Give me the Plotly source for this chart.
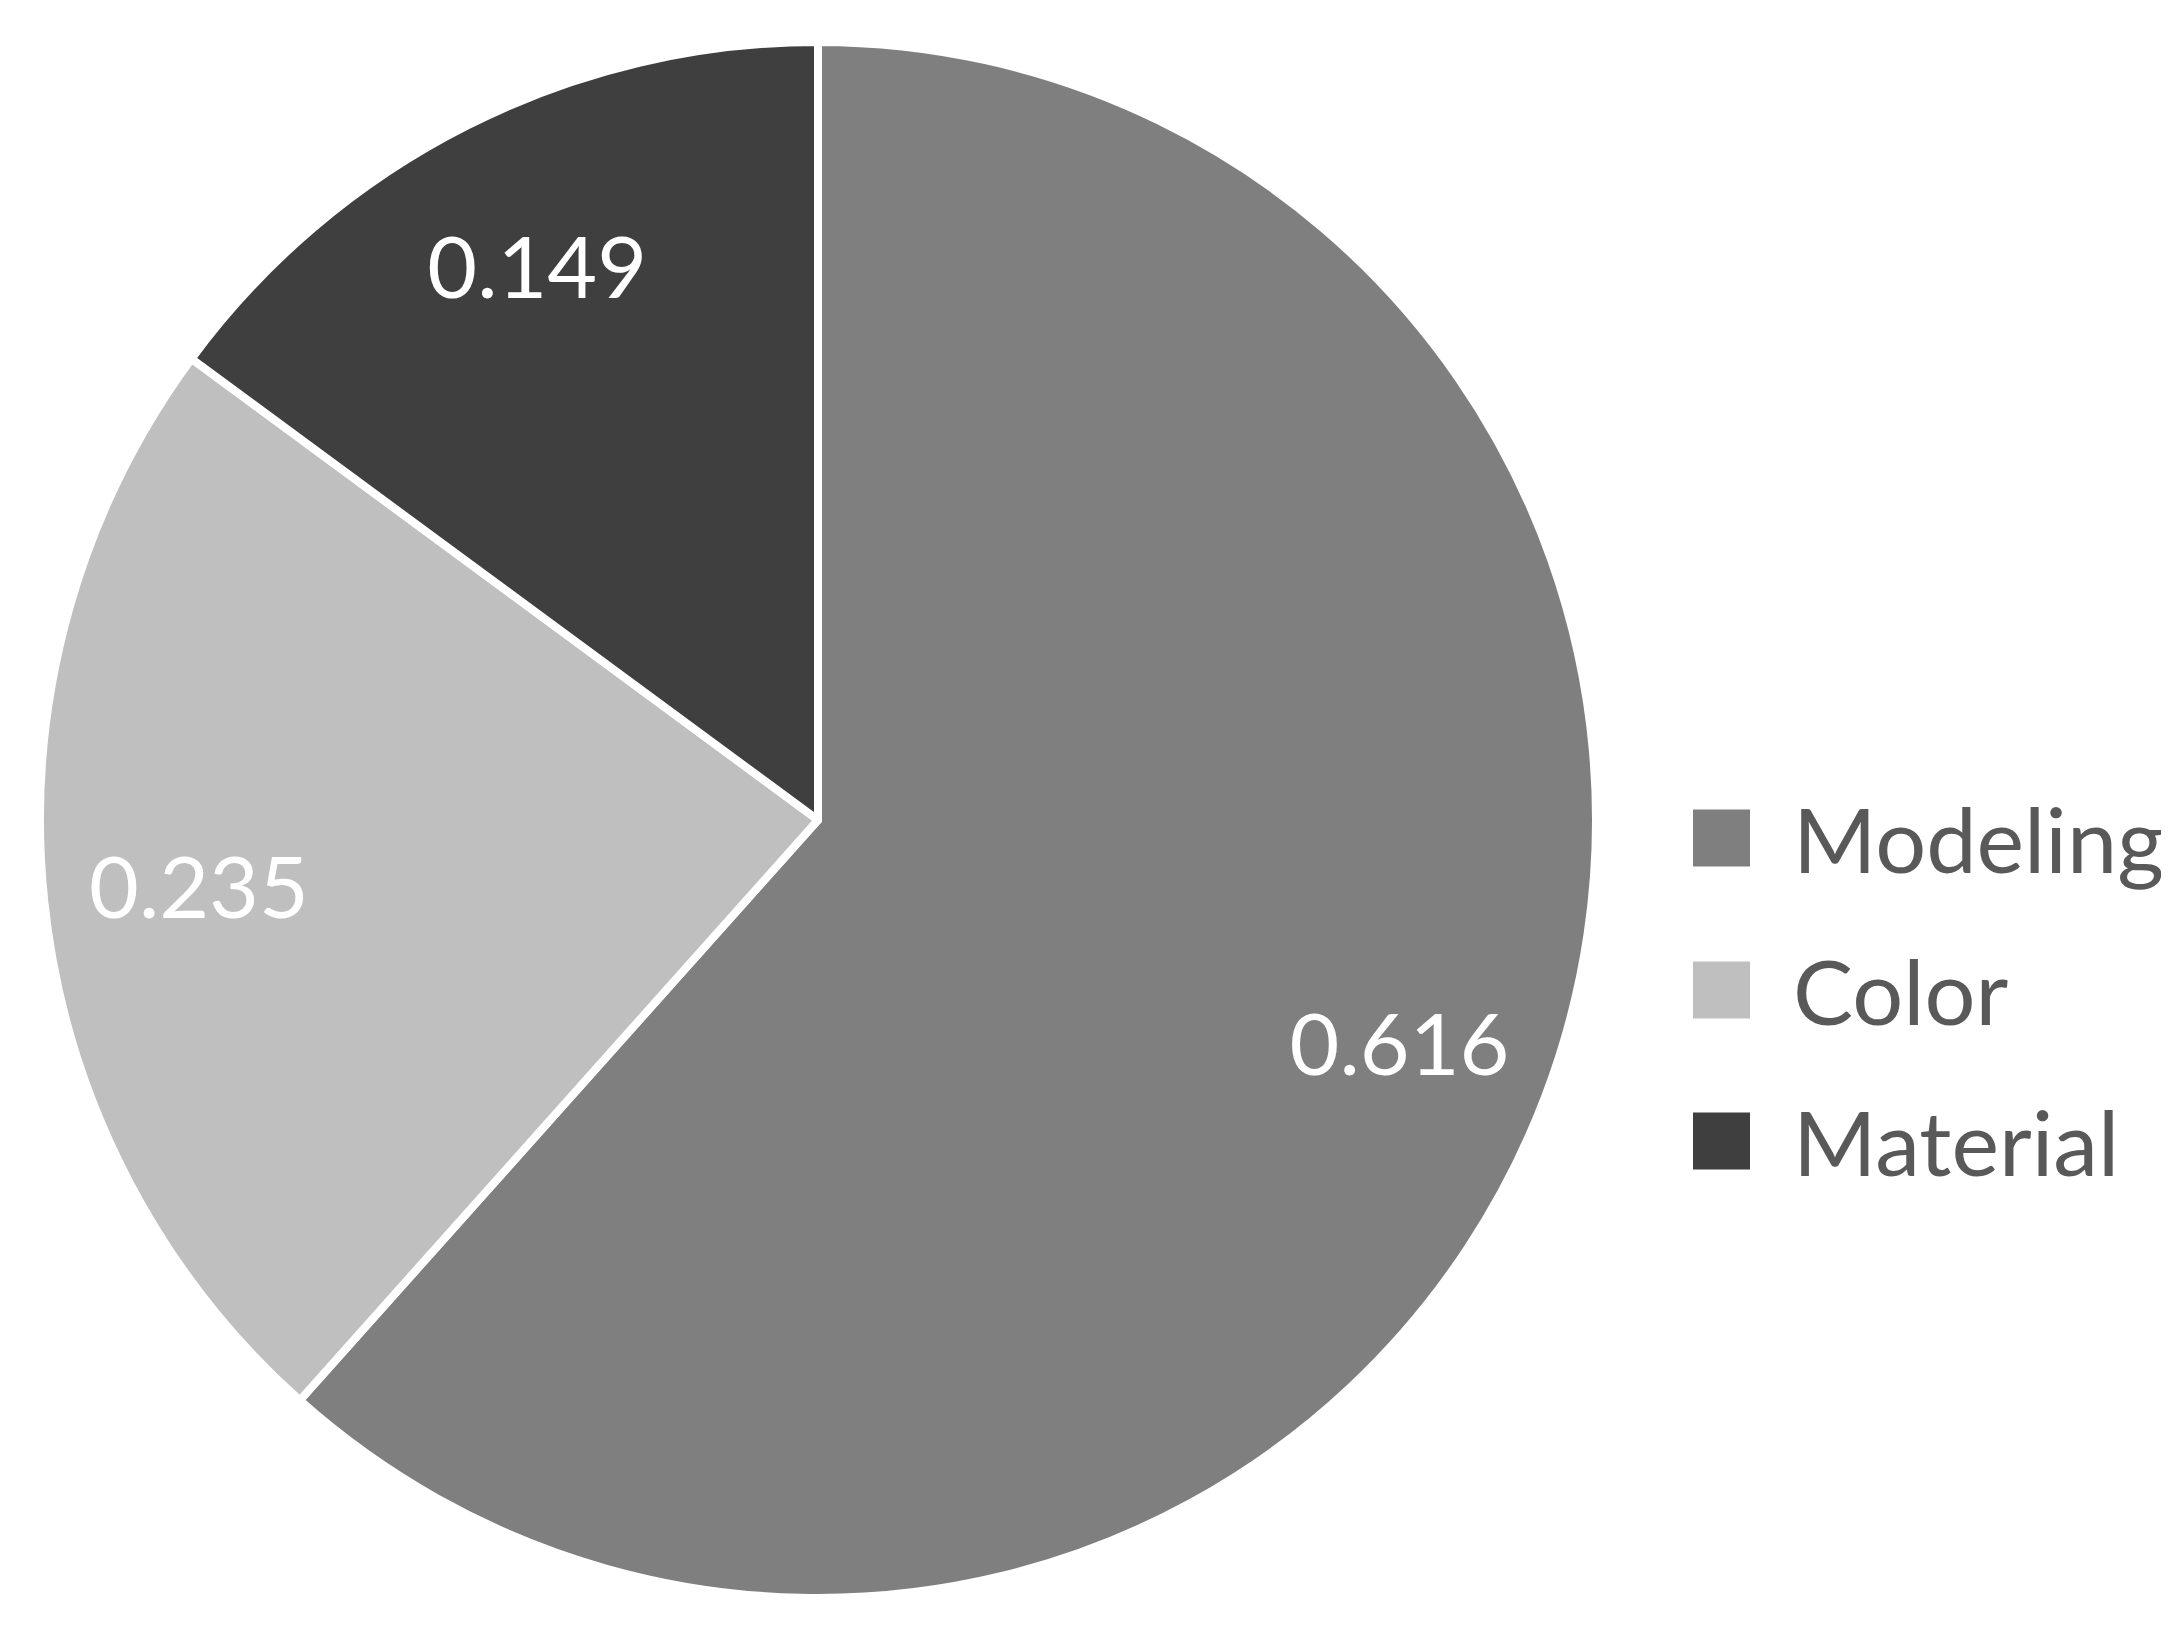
import plotly.graph_objects as go

labels = ["Modeling", "Color", "Material"]
values = [0.616, 0.235, 0.149]
colors = ["#7f7f7f", "#bfbfbf", "#3f3f3f"]

W, H = 2169, 1633
dom = dict(x=[32 / W, 1588 / W], y=[1 - 1590 / H, 1 - 34 / H])

# Filled pie (slices only)
fig = go.Figure(go.Pie(
    labels=labels,
    values=values,
    sort=False,
    direction="clockwise",
    rotation=0,
    marker=dict(colors=colors, line=dict(color="white", width=8)),
    textinfo="none",
    showlegend=False,
    domain=dom,
    hoverinfo="label+value",
))

# Transparent ring overlay to position the value labels further out
fig.add_trace(go.Pie(
    labels=labels,
    values=values,
    sort=False,
    direction="clockwise",
    rotation=0,
    hole=0.6,
    marker=dict(colors=["rgba(0,0,0,0)"] * len(values), line=dict(width=0)),
    texttemplate="%{value:.3f}",
    textposition="inside",
    insidetextorientation="horizontal",
    textfont=dict(family="Lato", size=86, color="white"),
    showlegend=False,
    domain=dom,
    hoverinfo="skip",
))

# Legend (drawn manually for large swatches)
leg_y = [830, 982, 1133]
sw = 57
for lab, col, yc in zip(labels, colors, leg_y):
    fig.add_shape(type="rect", xref="paper", yref="paper",
                  x0=1685 / W, x1=(1685 + sw) / W,
                  y0=1 - (yc + sw / 2) / H, y1=1 - (yc - sw / 2) / H,
                  fillcolor=col, line=dict(width=0))
    fig.add_annotation(xref="paper", yref="paper", x=1783 / W, y=1 - yc / H,
                       xanchor="left", yanchor="middle", showarrow=False,
                       text=lab, font=dict(family="Lato", size=90, color="#595959"))

fig.update_layout(
    width=W, height=H,
    margin=dict(l=0, r=0, t=0, b=0),
    paper_bgcolor="white",
    plot_bgcolor="white",
)

fig.write_html("out.html")
